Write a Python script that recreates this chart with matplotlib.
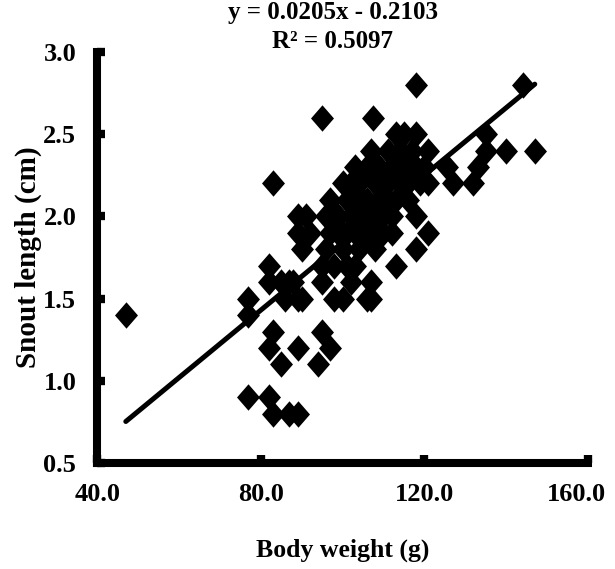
import numpy as np
import matplotlib.pyplot as plt
import matplotlib.transforms as mtransforms

# body weight (g) and snout length (cm)
body_weight = [
    47, 77, 82, 83, 87, 89,
    77, 77, 82, 82, 83, 82, 85, 89,
    85, 86, 88, 90, 87, 89,
    83, 89, 91, 90, 89,
    95, 97, 94, 95, 98, 100, 95,
    97, 99, 96, 98, 92, 95,
    100, 102, 101, 103, 104, 104, 105, 105, 106, 106, 107, 107,
    108, 108, 109, 109, 110, 110, 111, 111, 112, 112, 113, 113,
    114, 114, 115, 115, 116, 116, 117, 118, 118, 119, 120, 121, 121,
    99, 100, 101, 102, 103, 103, 102, 98, 97, 96,
    107, 107, 106, 113, 118, 118, 121, 112,
    107.5, 118,
    125.5, 127, 132, 133, 135, 135, 140, 147, 144,
    100, 101, 104, 105, 106, 108, 109, 110, 111, 103,
]
snout_length = [
    1.4, 0.9, 0.9, 0.8, 0.8, 0.8,
    1.5, 1.4, 1.7, 1.6, 1.3, 1.2, 1.1, 1.2,
    1.6, 1.5, 1.6, 1.5, 1.6, 1.5,
    2.2, 2.0, 2.0, 1.8, 1.9,
    1.3, 1.2, 1.1, 1.6, 1.5, 1.5, 1.7,
    2.1, 1.9, 1.8, 1.7, 1.9, 2.6,
    2.2, 2.0, 1.9, 2.1, 1.8, 2.2, 2.0, 2.1, 1.9, 2.3, 2.0, 2.4,
    2.2, 1.8, 2.1, 2.3, 2.0, 1.9, 2.2, 2.4, 2.3, 2.0, 2.1, 2.5,
    2.2, 2.4, 2.5, 2.3, 2.1, 2.2, 2.4, 2.5, 2.3, 2.2, 2.3, 2.4, 2.2,
    2.0, 1.8, 1.7, 1.6, 1.9, 1.7, 2.2, 2.0, 1.9, 2.0,
    1.6, 1.5, 1.5, 1.7, 1.8, 2.0, 1.9, 1.9,
    2.6, 2.8,
    2.3, 2.2, 2.2, 2.3, 2.4, 2.5, 2.4, 2.4, 2.8,
    1.9, 2.1, 2.0, 1.9, 2.1, 2.0, 1.9, 2.2, 2.1, 2.3,
]

slope, intercept, r2 = 0.0205, -0.2103, 0.5097

x_ticks = [40, 80, 120, 160]
y_ticks = [0.5, 1.0, 1.5, 2.0, 2.5, 3.0]

plt.rcParams['font.family'] = ['Liberation Serif', 'DejaVu Serif']
plt.rcParams['font.weight'] = 'bold'

fig = plt.figure(figsize=(6.15, 5.69), dpi=100)
ax = fig.add_axes([0.158, 0.186, 0.798, 0.723])

# slightly tall diamond, like the source
diamond = [(0, 1), (0.87, 0), (0, -1), (-0.87, 0), (0, 1)]
ax.plot(body_weight, snout_length, linestyle='none', marker=diamond,
        color='black', ms=19, mew=0, zorder=3)

xl = np.array([min(body_weight), max(body_weight)])
ax.plot(xl, slope * xl + intercept, color='black', lw=3.6,
        solid_capstyle='round', zorder=2)

ax.set_xlim(40, 160)
ax.set_ylim(0.5, 3.0)
ax.set_xticks(x_ticks)
ax.set_xticklabels([f"{v:.1f}" for v in x_ticks])
ax.set_yticks(y_ticks)
ax.set_yticklabels([f"{v:.1f}" for v in y_ticks])

for side in ('top', 'right'):
    ax.spines[side].set_visible(False)
for side in ('left', 'bottom'):
    ax.spines[side].set_linewidth(5.8)
    ax.spines[side].set_capstyle('projecting')

ax.tick_params(direction='in', length=6, width=6, labelsize=19)
ax.tick_params(axis='x', pad=14)
ax.tick_params(axis='y', pad=15)
for lab in ax.get_xticklabels() + ax.get_yticklabels():
    lab.set_fontweight('bold')

# keep the last x label inside the figure
last = ax.get_xticklabels()[-1]
last.set_transform(last.get_transform() +
                   mtransforms.ScaledTranslation(-8 / 72, 0, fig.dpi_scale_trans))

ax.set_xlabel('Body weight (g)', fontsize=18.5, fontweight='bold', labelpad=24)
ax.set_ylabel('Snout length (cm)', fontsize=21, fontweight='bold', labelpad=1)

ax.text(0.48, 0.998, f"y = {slope}x - {abs(intercept)}\nR² = {r2}",
        transform=ax.transAxes, ha='center', va='bottom',
        fontsize=18, fontweight='bold', linespacing=1.3)

fig.savefig('out.png', dpi=100)
